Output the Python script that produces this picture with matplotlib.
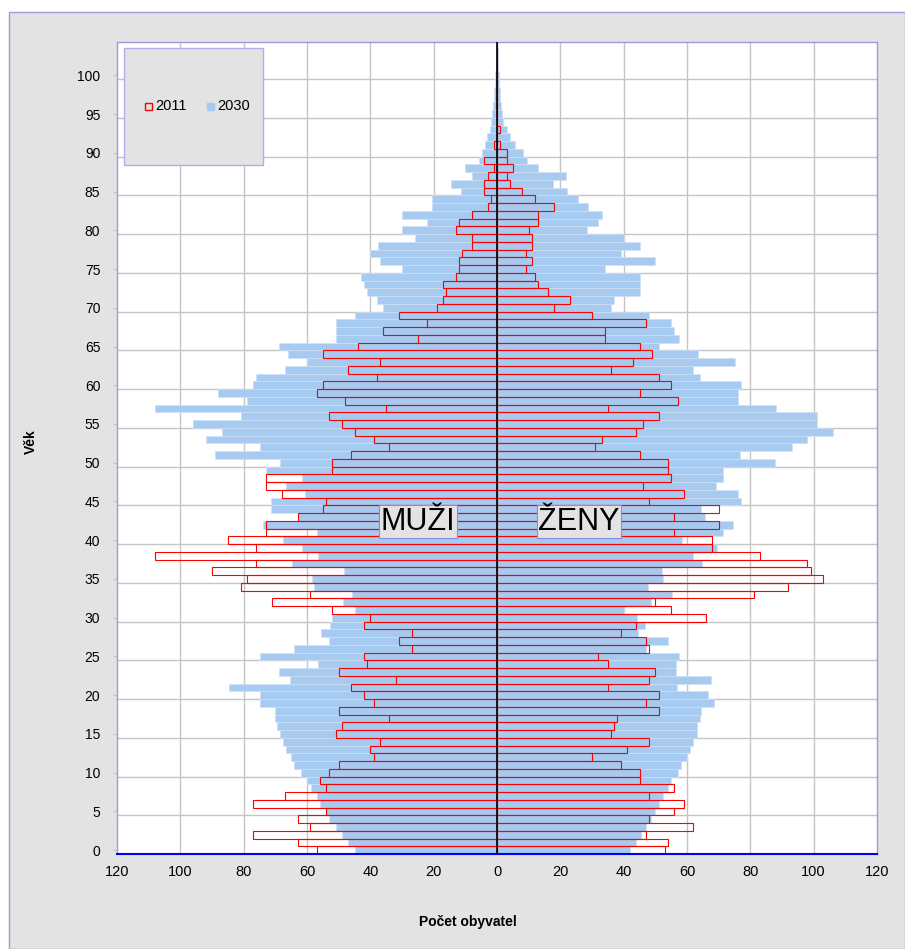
import numpy as np
import matplotlib
matplotlib.use("Agg")
import matplotlib.pyplot as plt
from matplotlib import patches

plt.rcParams['font.family'] = ['Liberation Sans', 'DejaVu Sans']

# age categories 0..104
ages = np.arange(105)

# 2011 (red outline) - men / women
muzi_2011 = [57, 63, 77, 59, 63, 54, 77, 67, 54, 56,
             53, 50, 39, 40, 37, 51, 49, 34, 50, 39,
             42, 46, 32, 50, 41, 42, 27, 31, 27, 42,
             40, 52, 71, 59, 81, 79, 90, 76, 108, 76,
             85, 73, 73, 63, 55, 54, 68, 73, 73, 52,
             52, 46, 34, 39, 45, 49, 53, 35, 48, 57,
             55, 38, 47, 37, 55, 44, 25, 36, 22, 31,
             19, 17, 16, 17, 13, 12, 12, 11, 8, 8,
             13, 12, 8, 3, 2, 4, 4, 3, 1, 4,
             0, 1, 0, 0, 0, 0, 0, 0, 0, 0,
             0, 0, 0, 0, 0]
zeny_2011 = [53, 54, 47, 62, 48, 56, 59, 48, 56, 45,
             45, 39, 30, 41, 48, 36, 37, 38, 51, 47,
             51, 35, 48, 50, 35, 32, 48, 47, 39, 44,
             66, 55, 50, 81, 92, 103, 99, 98, 83, 68,
             68, 56, 70, 56, 70, 48, 59, 46, 55, 54,
             54, 45, 31, 33, 44, 46, 51, 35, 57, 45,
             55, 51, 36, 43, 49, 45, 34, 34, 47, 30,
             18, 23, 16, 13, 12, 9, 11, 9, 11, 11,
             10, 13, 13, 18, 12, 8, 4, 3, 5, 3,
             3, 1, 0, 1, 0, 0, 0, 0, 0, 0,
             0, 0, 0, 0, 0]

# 2030 (blue fill) - men / women
muzi_2030 = [45, 47, 49, 51, 53, 54, 56, 57, 58.6, 60,
             62, 64, 65, 66.6, 67.5, 68.6, 69.4, 70, 70, 75,
             75, 84.7, 65.5, 68.8, 56.4, 74.7, 64, 53, 55.5, 52.8,
             52, 44.7, 48.5, 45.7, 57.8, 58.3, 48.2, 64.7, 56.4, 61.6,
             67.7, 56.7, 73.9, 63, 71.4, 71.4, 60.6, 66.6, 61.7, 73.1,
             68.6, 89, 75, 92, 87, 96, 81, 108, 79, 88,
             77, 76, 67, 60, 66, 69, 51, 51, 51, 45,
             36, 38, 41, 42, 43, 30, 37, 40, 37.5, 26,
             30, 22, 30, 20.5, 20.6, 11.4, 14.5, 8, 10, 5.6,
             4.7, 3.8, 3.1, 2.2, 1.8, 1.5, 1.2, 1.0, 0.8, 0.6,
             0.5, 0.3, 0.2, 0.1, 0.1]
zeny_2030 = [42, 44, 45.5, 47, 48.5, 50, 51, 52.5, 54, 55,
             57, 58, 60, 61, 62, 63, 63.3, 64, 64.4, 68.4,
             66.5, 56.9, 67.5, 56.4, 56.4, 57.4, 47, 54, 44.6, 46.8,
             44.2, 40, 48.6, 55.3, 47.8, 52.5, 52.2, 64.7, 61.9, 69.4,
             58.3, 71.3, 74.4, 65.8, 64.4, 77.2, 76, 69.1, 71.3, 71.3,
             87.8, 76.7, 93, 98, 106, 101, 101, 88, 76, 76,
             77, 64, 62, 75, 63.5, 51, 57.5, 56, 55, 48,
             36, 37, 45, 45, 45, 34, 50, 39, 45, 40,
             28.5, 32, 33, 28.7, 25.5, 22, 17.6, 21.8, 13, 9.4,
             8.3, 5.7, 4.1, 3.1, 2.0, 1.7, 1.4, 1.1, 0.9, 0.7,
             0.5, 0.4, 0.3, 0.2, 0.1]

x_ticks = np.arange(-120, 121, 20)

W, H = 905, 949
fig = plt.figure(figsize=(W / 100, H / 100), dpi=100)
fig.patch.set_facecolor('white')


def fx(x):
    return x / W


def fy(y):
    return 1 - y / H


# grey chart panel
fig.add_artist(patches.Rectangle((fx(9), 0), 1 - fx(9), fy(12), transform=fig.transFigure,
                                 facecolor='#e3e3e3', edgecolor='#9c9ce0', lw=1, zorder=0))

ax = fig.add_axes([fx(117), fy(854), fx(877) - fx(117), fy(42) - fy(854)])
ax.set_facecolor('white')
ax.set_xlim(-120, 120)
ax.set_ylim(-0.5, 104.3)

# grid lines (between categories, every 5 years)
for g in np.arange(4.5, 100, 5):
    ax.axhline(g, color='#c4c4c4', lw=1, zorder=0)
for xv in x_ticks[1:-1]:
    if xv != 0:
        ax.axvline(xv, color='#c4c4c4', lw=1, zorder=0)

blue = '#a6caf0'
ax.barh(ages, -np.array(muzi_2030), height=1.0, color=blue, edgecolor='#cfe1f6', lw=0.5, zorder=1)
ax.barh(ages, zeny_2030, height=1.0, color=blue, edgecolor='#cfe1f6', lw=0.5, zorder=1)
ax.barh(ages, -np.array(muzi_2011), height=1.0, facecolor='none', edgecolor='#ff0000', lw=0.8, zorder=2)
ax.barh(ages, zeny_2011, height=1.0, facecolor='none', edgecolor='#ff0000', lw=0.8, zorder=2)

ax.axvline(0, color='black', lw=1.2, zorder=4)

for s in ['left', 'right', 'top']:
    ax.spines[s].set_color('#9c9ce0')
    ax.spines[s].set_linewidth(1)
ax.spines['bottom'].set_color('#0000ff')
ax.spines['bottom'].set_linewidth(1.5)
ax.spines['bottom'].set_zorder(5)

ax.set_yticks(np.arange(0, 101, 5))
ax.set_yticklabels([str(v) for v in range(0, 101, 5)], fontsize=10)
ax.set_xticks(x_ticks)
ax.set_xticklabels([str(abs(v)) for v in x_ticks], fontsize=10.5)
ax.tick_params(axis='y', length=3, color='#c4c4c4', pad=9)
ax.tick_params(axis='x', length=0, pad=8)

# panel labels
box = dict(facecolor='#e3e3e3', edgecolor='#8888ee', lw=0.8, pad=1)
ax.text(-24.9, 42.4, 'MUŽI', fontsize=22, ha='center', va='center', bbox=box, zorder=6)
ax.text(25.9, 42.4, 'ŽENY', fontsize=22, ha='center', va='center', bbox=box, zorder=6)

# axis titles
fig.text(fx(468), fy(922), 'Počet obyvatel', fontsize=10, fontweight='bold', ha='center', va='center')
fig.text(fx(31), fy(442), 'Věk', fontsize=10, fontweight='bold', rotation=90, ha='center', va='center')

# legend
fig.add_artist(patches.Rectangle((fx(124), fy(165)), fx(263) - fx(124), fy(48) - fy(165),
                                 transform=fig.transFigure, facecolor='#e3e3e3',
                                 edgecolor='#b0b0e8', lw=1, zorder=5))
fig.add_artist(patches.Rectangle((fx(145), fy(110)), fx(7), fx(7) * W / H,
                                 transform=fig.transFigure, facecolor='none',
                                 edgecolor='#ff0000', lw=1, zorder=6))
fig.text(fx(155), fy(106), '2011', fontsize=10.5, ha='left', va='center', zorder=6)
fig.add_artist(patches.Rectangle((fx(207), fy(110)), fx(7), fx(7) * W / H,
                                 transform=fig.transFigure, facecolor=blue,
                                 edgecolor=blue, lw=1, zorder=6))
fig.text(fx(217), fy(106), '2030', fontsize=10.5, ha='left', va='center', zorder=6)

fig.savefig('out.png', dpi=100)
